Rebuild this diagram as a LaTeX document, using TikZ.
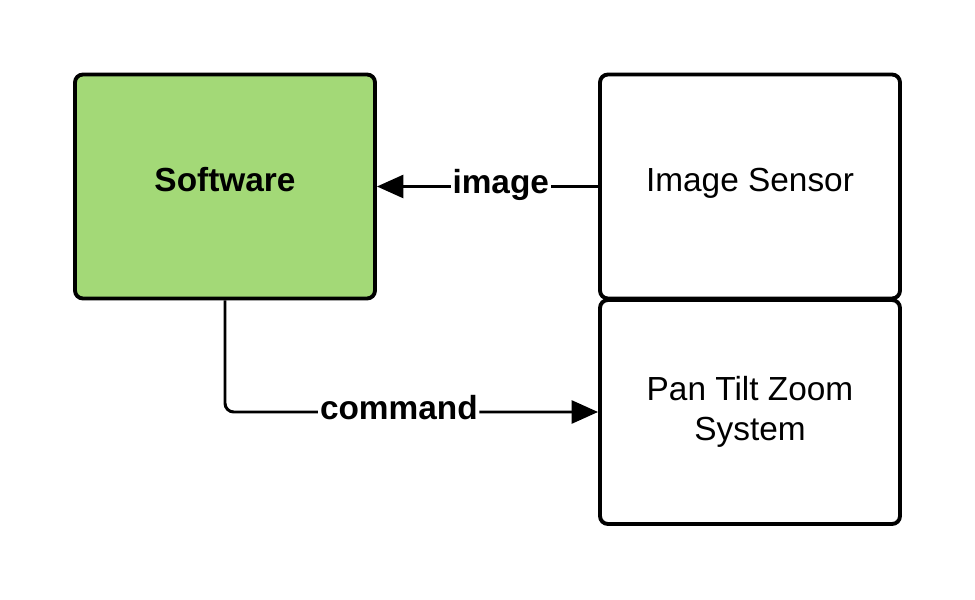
\documentclass[tikz,border=0pt]{standalone}
\usepackage{fontspec}
\setmainfont{Liberation Sans}
\usetikzlibrary{arrows.meta}
\definecolor{swgreen}{RGB}{163,217,119}
\begin{document}
\begin{tikzpicture}[
    box/.style={draw, line width=2.2pt, rounded corners=4.5pt, minimum width=6cm, minimum height=4.48cm, align=center, font=\fontsize{19}{22.7}\selectfont},
    oneline/.style={text height=13.6pt, text depth=7.4pt},
    conn/.style={line width=1.7pt, -{Triangle[length=15pt,width=13pt]}},
    lbl/.style={fill=white, inner sep=1pt, text height=13.6pt, text depth=5.6pt, font=\fontsize{19}{23}\selectfont\bfseries}
]
    \useasboundingbox (0,0) rectangle (19.5,12);

    \node[box, oneline, fill=swgreen, font=\fontsize{19}{22.7}\selectfont\bfseries] (sw) at (4.5,8.27) {Software};
    \node[box, oneline] (sensor) at (15,8.27) {Image Sensor};
    \node[box] (ptz) at (15,3.76) {Pan Tilt Zoom\\System};

    \draw[conn] (sensor.west) -- node[lbl, pos=0.44] {image} (sw.east);
    \draw[conn, rounded corners=5pt] (sw.south) |- node[lbl, pos=0.733] {command} (ptz.west);
\end{tikzpicture}
\end{document}
